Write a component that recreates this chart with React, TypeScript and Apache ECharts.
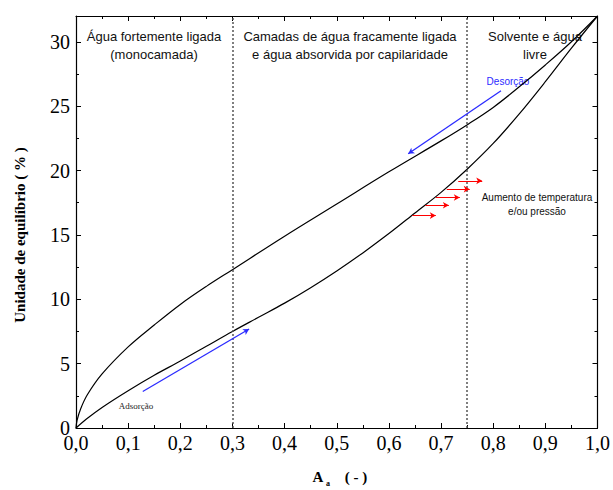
import React, { useEffect, useRef } from "react";
import * as echarts from "echarts";

// Desorption (upper) curve
const desX = [0, 0.002, 0.009, 0.022, 0.05, 0.1, 0.15, 0.2, 0.25, 0.3, 0.4, 0.5, 0.6, 0.7, 0.752, 0.8, 0.85, 0.9, 0.95, 1.0];
const desY = [0, 0.6, 1.5, 2.6, 4.2, 6.3, 8.0, 9.6, 11.0, 12.3, 14.9, 17.4, 19.9, 22.3, 23.6, 24.9, 26.5, 28.2, 30.0, 32];
// Adsorption (lower) curve
const adsX = [0, 0.02, 0.05, 0.1, 0.15, 0.2, 0.25, 0.3, 0.35, 0.4, 0.45, 0.5, 0.55, 0.6, 0.65, 0.7, 0.75, 0.8, 0.85, 0.9, 0.95, 1.0];
const adsY = [0, 0.7, 1.6, 2.9, 4.1, 5.2, 6.35, 7.5, 8.6, 9.7, 10.9, 12.2, 13.6, 15.1, 16.7, 18.3, 20.1, 22.1, 24.4, 26.9, 29.5, 32];

// Region boundaries
const boundaries = [0.3, 0.752];

// Arrows [x1, y1, x2, y2]
const blueArrows = [
  [0.128, 2.83, 0.332, 7.69],
  [0.815, 26.2, 0.637, 21.3],
];
const redArrows = [
  [0.733, 19.2, 0.779, 19.2],
  [0.711, 18.55, 0.755, 18.55],
  [0.69, 17.9, 0.736, 17.9],
  [0.67, 17.3, 0.715, 17.3],
  [0.645, 16.5, 0.69, 16.5],
];

const xTickLabels = ["0,0", "0,1", "0,2", "0,3", "0,4", "0,5", "0,6", "0,7", "0,8", "0,9", "1,0"];

const serif = "'Liberation Serif', 'Times New Roman', serif";
const sans = "'Liberation Sans', Arial, sans-serif";

export default function App() {
  const ref = useRef<HTMLDivElement>(null);
  useEffect(() => {
    document.body.style.margin = "0";
    const chart = echarts.init(ref.current!, null, { renderer: "svg" });
    const arrowLine = (arr: number[][]) =>
      arr.map((a) => [
        { coord: [a[0], a[1]], symbol: "none" },
        { coord: [a[2], a[3]], symbol: "arrow", symbolSize: [5, 6] },
      ]);
    const axisCommon = {
      axisLine: { show: true, onZero: false, lineStyle: { color: "#000", width: 1.2 } },
      axisTick: { show: true, inside: true, length: 5, lineStyle: { color: "#000" } },
      minorTick: { show: true, splitNumber: 2, length: 3, lineStyle: { color: "#000" } },
      splitLine: { show: false },
    };
    const curveStyle = {
      type: "line",
      smooth: 0.35,
      symbol: "none",
      lineStyle: { color: "#000", width: 1.2 },
    };
    chart.setOption({
      animation: false,
      grid: { left: 76, right: 13, top: 16, bottom: 62 },
      xAxis: [
        {
          type: "value",
          min: 0,
          max: 1,
          interval: 0.1,
          ...axisCommon,
          axisLabel: {
            fontFamily: serif,
            fontSize: 20,
            color: "#000",
            margin: 5,
            formatter: (v: number) => xTickLabels[Math.round(v * 10)] ?? "",
          },
        },
        {
          type: "value",
          position: "top",
          min: 0,
          max: 1,
          interval: 0.1,
          ...axisCommon,
          axisLabel: { show: false },
        },
      ],
      yAxis: [
        {
          type: "value",
          min: 0,
          max: 32,
          interval: 5,
          ...axisCommon,
          axisLabel: {
            fontFamily: serif,
            fontSize: 20,
            color: "#000",
            margin: 6,
            showMaxLabel: false,
            formatter: (v: number) => (v % 5 === 0 ? String(v) : ""),
          },
        },
        {
          type: "value",
          position: "right",
          min: 0,
          max: 32,
          interval: 5,
          ...axisCommon,
          axisLabel: { show: false },
        },
      ],
      series: [
        {
          ...curveStyle,
          data: desX.map((x, i) => [x, desY[i]]),
          markLine: {
            silent: true,
            symbol: "none",
            label: { show: false },
            lineStyle: { color: "#555", type: [2, 2], width: 1.5 },
            data: boundaries.map((b) => ({ xAxis: b })),
          },
        },
        {
          ...curveStyle,
          data: adsX.map((x, i) => [x, adsY[i]]),
          markLine: {
            silent: true,
            label: { show: false },
            lineStyle: { color: "#2b2bff", type: "solid", width: 1.3 },
            data: arrowLine(blueArrows),
          },
        },
        {
          type: "line",
          data: [],
          markLine: {
            silent: true,
            label: { show: false },
            lineStyle: { color: "#ff0000", type: "solid", width: 1 },
            data: arrowLine(redArrows),
          },
        },
      ],
      graphic: [
        { type: "text", x: 20, y: 235, rotation: Math.PI / 2, style: { text: "Unidade de equilíbrio ( % )", font: `bold 15px ${serif}`, fill: "#000", align: "center", verticalAlign: "middle" } },
        { type: "text", x: 154, y: 36, style: { text: "Água fortemente ligada", font: `13px ${sans}`, fill: "#111", align: "center", verticalAlign: "middle" } },
        { type: "text", x: 154, y: 54, style: { text: "(monocamada)", font: `13px ${sans}`, fill: "#111", align: "center", verticalAlign: "middle" } },
        { type: "text", x: 350, y: 36, style: { text: "Camadas de água fracamente ligada", font: `13px ${sans}`, fill: "#111", align: "center", verticalAlign: "middle" } },
        { type: "text", x: 350, y: 54, style: { text: "e água absorvida por capilaridade", font: `13px ${sans}`, fill: "#111", align: "center", verticalAlign: "middle" } },
        { type: "text", x: 535, y: 36, style: { text: "Solvente e água", font: `13px ${sans}`, fill: "#111", align: "center", verticalAlign: "middle" } },
        { type: "text", x: 535, y: 54, style: { text: "livre", font: `13px ${sans}`, fill: "#111", align: "center", verticalAlign: "middle" } },
        { type: "text", x: 508, y: 81, style: { text: "Desorção", font: `10px ${sans}`, fill: "#2b2bff", align: "center", verticalAlign: "middle" } },
        { type: "text", x: 136, y: 406, style: { text: "Adsorção", font: `9px ${serif}`, fill: "#222", align: "center", verticalAlign: "middle" } },
        { type: "text", x: 537, y: 197, style: { text: "Aumento de temperatura", font: `10px ${sans}`, fill: "#111", align: "center", verticalAlign: "middle" } },
        { type: "text", x: 537, y: 211, style: { text: "e/ou pressão", font: `10px ${sans}`, fill: "#111", align: "center", verticalAlign: "middle" } },
        { type: "text", x: 318, y: 477, style: { text: "A", font: `bold 15px ${serif}`, fill: "#000", align: "center", verticalAlign: "middle" } },
        { type: "text", x: 328, y: 483, style: { text: "a", font: `bold 8px ${serif}`, fill: "#000", align: "center", verticalAlign: "middle" } },
        { type: "text", x: 356, y: 477, style: { text: "( - )", font: `bold 15px ${serif}`, fill: "#000", align: "center", verticalAlign: "middle" } },
      ],
    });
    return () => chart.dispose();
  }, []);
  return <div ref={ref} style={{ width: 613, height: 490 }} />;
}
